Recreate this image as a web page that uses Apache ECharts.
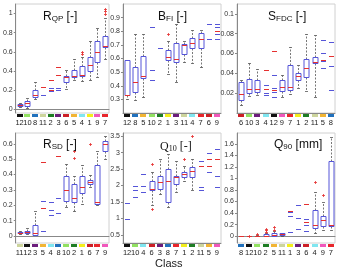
<!DOCTYPE html>
<html><head><meta charset="utf-8">
<script src="https://cdn.jsdelivr.net/npm/echarts@6/dist/echarts.min.js"></script>
<style>html,body{margin:0;padding:0;background:#fff}#c{width:341px;height:268px}</style>
</head><body><div id="c"></div>
<script>
// ---------- data ----------
const classColors = {'1':'#f3ee1c','2':'#1e7d24','3':'#6c1d7c','4':'#80e6f0','5':'#f2b534','6':'#cc1f26','7':'#e8262c','8':'#2171bd','9':'#f058bb','10':'#92e162','11':'#cdd59d','12':'#111111'};

// Panel 1: R_QP
const cats1 = ['12','10','8','11','2','3','6','5','4','1','9','7'];
const box1 = [[0.025,0.03,0.042,0.056,0.06],[0.01,0.03,0.06,0.087,0.12],[0.11,0.126,0.15,0.196,0.28],null,null,null,[0.21,0.28,0.335,0.35,0.41],[0.30,0.34,0.35,0.41,0.52],[0.29,0.35,0.36,0.45,0.55],[0.31,0.40,0.465,0.55,0.71],[0.34,0.49,0.60,0.71,0.85],[0.52,0.65,0.66,0.77,0.95]];
const blue1 = [['11',0.15],['2',0.22],['2',0.19],['3',0.22],['3',0.20]];
const red1 = [['11',0.235],['2',0.30],['2',0.20],['3',0.44],['3',0.36]];
const out1 = [['4',0.60],['4',0.58],['7',1.0],['7',1.03],['7',1.05]];
const ticks1 = [0,0.2,0.4,0.6,0.8,1];

// Panel 2: B_FI
const cats2 = ['12','8','5','10','2','1','3','11','4','7','6','9'];
const box2 = [[0.30,0.33,0.33,0.59,0.59],[0.295,0.356,0.424,0.534,0.778],[0.315,0.454,0.47,0.617,0.78],null,null,[0.485,0.588,0.61,0.666,0.73],[0.43,0.576,0.60,0.715,0.856],[0.575,0.63,0.70,0.71,0.73],[0.565,0.68,0.715,0.75,0.81],[0.534,0.68,0.746,0.79,0.81],null,null];
const blue2 = [['10',0.83],['10',0.515],['10',0.44],['2',0.68],['6',0.856],['6',0.742],['9',0.85],['9',0.83],['9',0.78],['9',0.745]];
const red2 = [['9',0.80]];
const out2 = [['1',0.78]];
const ticks2 = [0.3,0.4,0.5,0.6,0.7,0.8,0.9];

// Panel 3: S_FDC
const cats3 = ['6','10','3','4','12','9','7','1','2','11','5','8'];
const box3 = [[0.008,0.013,0.019,0.031,0.033],[0.017,0.020,0.024,0.034,0.050],[0.018,0.021,0.024,0.033,0.044],null,null,[0.016,0.022,0.026,0.033,0.038],[0.019,0.023,0.026,0.048,0.067],[0.025,0.033,0.037,0.040,0.048],[0.022,0.036,0.045,0.055,0.080],[0.016,0.050,0.051,0.057,0.079],null,null];
const blue3 = [['4',0.028],['4',0.020],['4',0.018],['12',0.038],['12',0.025],['12',0.021],['12',0.016],['5',0.074],['5',0.061],['5',0.052],['5',0.045],['8',0.072],['8',0.047],['8',0.023]];
const red3 = [['4',0.043],['4',0.024],['12',0.063],['12',0.023],['5',0.053],['8',0.058]];
const out3 = [];
const ticks3 = [0.02,0.04,0.06,0.08,0.1];

// Panel 4: R_SD
const cats4 = ['11','12','3','5','4','8','10','2','1','6','7','9'];
const box4 = [[0.015,0.018,0.022,0.027,0.03],[0.015,0.02,0.028,0.035,0.05],[0.005,0.01,0.02,0.075,0.16],null,null,null,[0.19,0.23,0.30,0.39,0.47],[0.16,0.22,0.25,0.34,0.39],[0.21,0.28,0.32,0.39,0.46],[0.32,0.34,0.35,0.365,0.40],[0.20,0.21,0.22,0.46,0.55],[0.50,0.55,0.60,0.62,0.65]];
const blue4 = [['5',0.23],['5',0.03],['4',0.22],['4',0.17],['4',0.14],['8',0.25],['8',0.15]];
const red4 = [['5',0.48],['5',0.18],['8',0.52]];
const out4 = [['2',0.51],['2',0.55],['6',0.60]];
const ticks4 = [0,0.1,0.2,0.3,0.4,0.5,0.6];

// Panel 5: Q_10
const cats5 = ['12','10','4','6','3','8','7','1','2','11','5','9'];
const box5 = [null,null,null,[1.4,1.85,1.9,2.15,2.4],[1.75,1.9,2.1,2.3,2.8],[1.35,1.5,2.15,2.5,2.95],[1.8,2.05,2.25,2.3,2.75],[2.15,2.25,2.35,2.4,2.6],[1.85,2.25,2.45,2.55,2.8],null,null,null];
const blue5 = [['12',1.47],['12',0.97],['10',2.0],['10',1.85],['10',1.65],['4',2.35],['4',2.0],['4',1.8],['11',2.75],['11',1.95],['11',1.85],['5',3.0],['5',2.4],['9',3.1],['9',2.3],['9',1.95]];
const red5 = [['11',2.6],['5',2.8],['5',2.6],['9',2.8]];
const out5 = [['6',2.65],['6',1.3],['1',2.8],['2',3.5]];
const ticks5 = [0.5,1,1.5,2,2.5,3,3.5];

// Panel 6: Q_90
const cats6 = ['8','12','10','2','5','11','1','3','6','4','9','7'];
const box6 = [[0,0,0,0,0],[0,0,0,0,0],[0,0,0.005,0.01,0.02],[0,0.005,0.01,0.03,0.05],[0,0.01,0.02,0.05,0.09],[0.005,0.02,0.03,0.05,0.06],null,null,null,[0.05,0.14,0.2,0.45,0.76],[0.1,0.18,0.28,0.35,0.6],[0.1,0.18,0.2,1.3,1.72]];
const blue6 = [['1',0.41],['1',0.35],['1',0.07],['3',0.54],['3',0.32],['3',0.12],['6',0.30],['6',0.20],['6',0.08]];
const red6 = [['1',0.44],['6',0.55],['6',0.25]];
const out6 = [['12',0.0],['10',0.03],['2',0.07],['2',0.10],['2',0.12],['5',0.10],['5',0.15],['4',0.94],['9',0.71]];
const ticks6 = [0,0.2,0.4,0.6,0.8,1,1.2,1.4,1.6];

// ---------- layout ----------
const panels = [
  {cats:cats1, box:box1, blue:blue1, red:red1, out:out1, ticks:ticks1, min:-0.04, max:1.1, title:['R','QP',' [-]'], tx:43, ty:11},
  {cats:cats2, box:box2, blue:blue2, red:red2, out:out2, ticks:ticks2, min:0.2, max:1.0, title:['B','FI',' [-]'], tx:158, ty:11},
  {cats:cats3, box:box3, blue:blue3, red:red3, out:out3, ticks:ticks3, min:0, max:0.11, title:['S','FDC',' [-]'], tx:268, ty:11},
  {cats:cats4, box:box4, blue:blue4, red:red4, out:out4, ticks:ticks4, min:-0.045, max:0.67, title:['R','SD',' [-]'], tx:43, ty:139},
  {cats:cats5, box:box5, blue:blue5, red:red5, out:out5, ticks:ticks5, min:0.25, max:3.6, title:['Q','10',' [-]'], tx:160, ty:141, serif:true},
  {cats:cats6, box:box6, blue:blue6, red:red6, out:out6, ticks:ticks6, min:-0.12, max:1.79, title:['Q','90',' [mm]'], tx:274, ty:139}
];
const colPos = [{left:11,width:98},{left:123,width:98},{left:237,width:98}];
const rowPos = [{top:4,height:109},{top:133,height:110}];

const BLUE = '#5555d8', RED = '#e53030', GREY = '#555';
const grids=[], xAxes=[], yAxes=[], series=[], graphics=[];

function boxRender(params, api){
  const x = api.value(0);
  const v = [1,2,3,4,5].map(i=>api.value(i));
  const cx = Math.round(api.coord([x, v[0]])[0]) + 0.5;
  const y = val => Math.round(api.coord([x, val])[1]) + 0.5;
  const h = 2.5, ch = 1.5;
  const ch_ = [];
  const dash = {stroke:GREY, lineWidth:0.8, lineDash:[2,1.5], fill:null};
  if (v[4] > v[3]) {
    ch_.push({type:'line', shape:{x1:cx,y1:y(v[3]),x2:cx,y2:y(v[4])}, style:dash});
    ch_.push({type:'line', shape:{x1:cx-ch,y1:y(v[4]),x2:cx+ch,y2:y(v[4])}, style:{stroke:GREY,lineWidth:0.8}});
  }
  if (v[1] > v[0]) {
    ch_.push({type:'line', shape:{x1:cx,y1:y(v[1]),x2:cx,y2:y(v[0])}, style:dash});
    ch_.push({type:'line', shape:{x1:cx-ch,y1:y(v[0]),x2:cx+ch,y2:y(v[0])}, style:{stroke:GREY,lineWidth:0.8}});
  }
  ch_.push({type:'rect', shape:{x:cx-h, y:y(v[3]), width:2*h, height:Math.max(0,y(v[1])-y(v[3]))}, style:{stroke:BLUE, fill:null, lineWidth:1}});
  ch_.push({type:'line', shape:{x1:cx-h,y1:y(v[2]),x2:cx+h,y2:y(v[2])}, style:{stroke:RED,lineWidth:1}});
  return {type:'group', children:ch_};
}
function dashRender(color){
  return function(params, api){
    const p = api.coord([api.value(0), api.value(1)]);
    const cx = Math.round(p[0])+0.5, cy = Math.round(p[1])+0.5;
    return {type:'line', shape:{x1:cx-2.5,y1:cy,x2:cx+2.5,y2:cy}, style:{stroke:color,lineWidth:1}};
  };
}
function plusRender(params, api){
  const p = api.coord([api.value(0), api.value(1)]);
  const cx = Math.round(p[0])+0.5, cy = Math.round(p[1])+0.5;
  return {type:'group', children:[
    {type:'line', shape:{x1:cx-1.5,y1:cy,x2:cx+1.5,y2:cy}, style:{stroke:RED,lineWidth:0.8}},
    {type:'line', shape:{x1:cx,y1:cy-1.5,x2:cx,y2:cy+1.5}, style:{stroke:RED,lineWidth:0.8}}
  ]};
}
function barRender(cats){
  return function(params, api){
    const idx = api.value(0);
    const p = api.coord([idx, 0]);
    const cs = params.coordSys;
    return {type:'rect', shape:{x:Math.round(p[0])-3, y:cs.y+cs.height+1, width:6, height:3}, style:{fill:classColors[cats[idx]]}};
  };
}

panels.forEach((P, i) => {
  const c = colPos[i%3], r = rowPos[Math.floor(i/3)];
  grids.push({left:c.left, width:c.width, top:r.top, height:r.height, show:true, borderColor:'#d0d0d0', borderWidth:1, backgroundColor:'#fff'});
  xAxes.push({type:'category', gridIndex:i, data:P.cats, boundaryGap:true,
    axisLine:{show:true, lineStyle:{color:'#888', width:1}},
    axisTick:{show:false},
    axisLabel:{interval:0, fontSize:7.5, color:'#222', margin:6, fontFamily:'Liberation Sans'}});
  yAxes.push({type:'value', gridIndex:i, min:P.min, max:P.max,
    splitLine:{show:false},
    axisLine:{show:true, lineStyle:{color:'#888', width:1}},
    axisTick:{show:true, length:2, customValues:P.ticks, lineStyle:{color:'#888'}},
    axisLabel:{fontSize:7, color:'#333', margin:3, customValues:P.ticks, fontFamily:'Liberation Sans', formatter: v => String(+v.toFixed(3))}});
  const idx = n => P.cats.indexOf(n);
  const boxData = [];
  P.box.forEach((b, k) => { if (b) boxData.push([k].concat(b)); });
  series.push({type:'custom', xAxisIndex:i, yAxisIndex:i, clip:false, renderItem:boxRender, data:boxData, silent:true, z:3});
  series.push({type:'custom', xAxisIndex:i, yAxisIndex:i, clip:false, renderItem:dashRender(BLUE), data:P.blue.map(d=>[idx(d[0]), d[1]]), silent:true, z:3});
  series.push({type:'custom', xAxisIndex:i, yAxisIndex:i, clip:false, renderItem:dashRender(RED), data:P.red.map(d=>[idx(d[0]), d[1]]), silent:true, z:4});
  series.push({type:'custom', xAxisIndex:i, yAxisIndex:i, clip:false, renderItem:plusRender, data:P.out.map(d=>[idx(d[0]), d[1]]), silent:true, z:4});
  series.push({type:'custom', xAxisIndex:i, yAxisIndex:i, clip:false, renderItem:barRender(P.cats), data:P.cats.map((n,k)=>[k,0]), silent:true, z:5});
  const fam = P.serif ? 'Liberation Serif' : 'Liberation Sans';
  graphics.push({type:'text', left:P.tx, top:P.ty, z:10, style:{
    text:'{a|'+P.title[0]+'}{s|'+P.title[1]+'}{a|'+P.title[2]+'}',
    rich:{a:{fontSize:12, fontFamily:fam, fill:'#111', lineHeight:14, verticalAlign:'bottom'},
          s:{fontSize:8, fontFamily:fam, fill:'#111', lineHeight:9, verticalAlign:'bottom', padding:[0,0,0,0]}}
  }});
});
graphics.push({type:'text', left:155, top:258, style:{text:'Class', fontSize:11, fontFamily:'Liberation Sans', fill:'#222'}});

const chart = echarts.init(document.getElementById('c'), null, {renderer:'canvas'});
chart.setOption({animation:false, backgroundColor:'#fff', grid:grids, xAxis:xAxes, yAxis:yAxes, series:series, graphic:graphics});
</script></body></html>
